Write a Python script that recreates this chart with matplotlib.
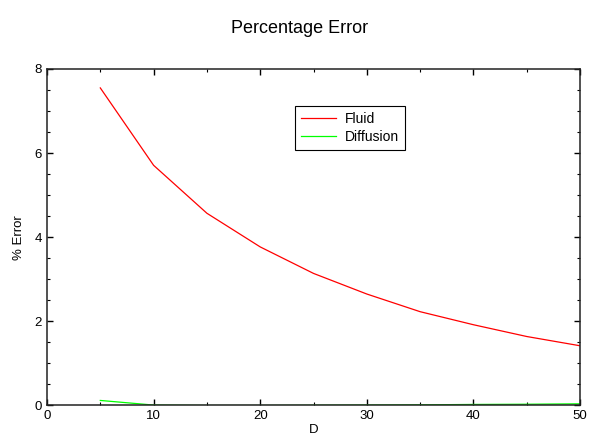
import matplotlib
matplotlib.use("Agg")
import matplotlib.pyplot as plt
from matplotlib.ticker import MultipleLocator

plt.rcParams['font.family'] = ['Liberation Sans', 'DejaVu Sans']

D = [5, 10, 15, 20, 25, 30, 35, 40, 45, 50]
fluid = [7.55, 5.71, 4.57, 3.77, 3.14, 2.65, 2.23, 1.92, 1.64, 1.42]
diffusion = [0.12, 0.01, 0.0, 0.0, 0.005, 0.01, 0.015, 0.025, 0.03, 0.04]

fig = plt.figure(figsize=(5.89, 4.42), dpi=100)
ax = fig.add_axes([0.0798, 0.0826, 0.905, 0.7613])
ax.plot(D, fluid, color='#ff0000', lw=0.9, label='Fluid')
ax.plot(D, diffusion, color='#00ff00', lw=0.9, label='Diffusion')
ax.set_xlim(0, 50)
ax.set_ylim(0, 8)
ax.xaxis.set_major_locator(MultipleLocator(10))
ax.xaxis.set_minor_locator(MultipleLocator(5))
ax.yaxis.set_major_locator(MultipleLocator(2))
ax.yaxis.set_minor_locator(MultipleLocator(0.5))
ax.tick_params(which='both', direction='in', top=True, right=True, labelsize=9.5, colors='black')
ax.tick_params(which='major', length=4, width=1)
ax.tick_params(which='minor', length=2.5, width=0.8)
for s in ax.spines.values():
    s.set_linewidth(1.1)
    s.set_color('#222222')
ax.set_xlabel('D', fontsize=9.5, labelpad=1)
ax.set_ylabel('% Error', fontsize=9.5, labelpad=7)
fig.suptitle('Percentage Error', fontsize=13, x=0.509, y=0.955)
leg = ax.legend(loc='upper left', bbox_to_anchor=(0.4647, 0.890), borderaxespad=0,
                fontsize=10, frameon=True, fancybox=False, edgecolor='black', framealpha=1,
                handlelength=2.5, handletextpad=0.65, borderpad=0.45, labelspacing=0.25)
leg.get_frame().set_linewidth(0.8)
fig.savefig('out.png', dpi=100)
